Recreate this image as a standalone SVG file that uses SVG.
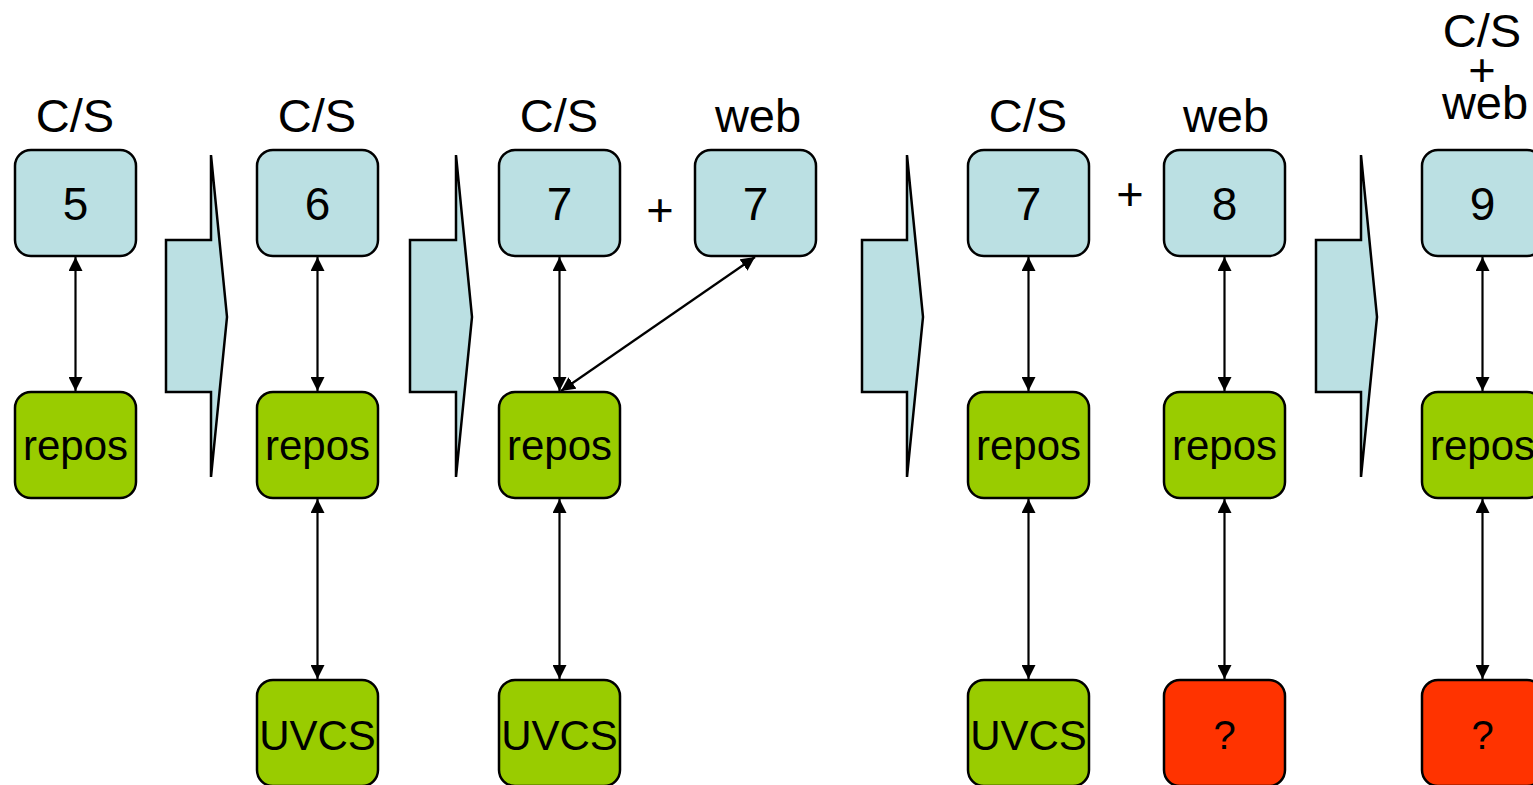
<svg xmlns="http://www.w3.org/2000/svg" width="1533" height="785" viewBox="0 0 1533 785">
<style>
.box{stroke:#000;stroke-width:2.5}
.blue{fill:#BBE0E3}
.green{fill:#99CC00}
.red{fill:#FF3300}
.chev{fill:#BBE0E3;stroke:#000;stroke-width:2.5;stroke-linejoin:miter}
text{font-family:"Liberation Sans",Arial,sans-serif;fill:#000;text-anchor:middle}
.lbl{font-size:47px}
.num{font-size:46px}
.t{font-size:42px}
.q{font-size:40px}
.con line{stroke:#000;stroke-width:2.2;marker-start:url(#ah);marker-end:url(#ah)}
</style>
<defs>
<marker id="ah" viewBox="0 0 14 14" refX="14" refY="7" markerWidth="14" markerHeight="14" markerUnits="userSpaceOnUse" orient="auto-start-reverse">
<path d="M0,0 L14,7 L0,14 z" fill="#000"/>
</marker>
</defs>
<rect width="1533" height="785" fill="#fff"/>

<g id="labels">
<text class="lbl" x="75" y="132">C/S</text>
<text class="lbl" x="317" y="132">C/S</text>
<text class="lbl" x="559" y="132">C/S</text>
<text class="lbl" x="758" y="132">web</text>
<text class="lbl" x="1028" y="132">C/S</text>
<text class="lbl" x="1226" y="132">web</text>
<text class="lbl" x="1482" y="47">C/S</text>
<text class="lbl" x="1482" y="86">+</text>
<text class="lbl" x="1485" y="119">web</text>
<text class="lbl" x="660" y="226">+</text>
<text class="lbl" x="1130" y="210">+</text>
</g>

<g id="chevrons">
<polygon class="chev" points="166,240 211,240 211,155 227,317 211,477 211,392 166,392"/>
<polygon class="chev" points="410,240 456,240 456,155 472,317 456,477 456,392 410,392"/>
<polygon class="chev" points="862,240 907,240 907,155 923,317 907,477 907,392 862,392"/>
<polygon class="chev" points="1316,240 1361,240 1361,155 1377,317 1361,477 1361,392 1316,392"/>
</g>

<g id="n5"><rect class="box blue" x="15" y="150" width="121" height="106" rx="16"/><text class="num" x="75.5" y="220">5</text></g>
<g id="r1"><rect class="box green" x="15" y="392" width="121" height="106" rx="16"/><text class="t" x="75.5" y="460">repos</text></g>

<g id="n6"><rect class="box blue" x="257" y="150" width="121" height="106" rx="16"/><text class="num" x="317.5" y="220">6</text></g>
<g id="r2"><rect class="box green" x="257" y="392" width="121" height="106" rx="16"/><text class="t" x="317.5" y="460">repos</text></g>
<g id="u2"><rect class="box green" x="257" y="680" width="121" height="106" rx="16"/><text class="t" x="317.5" y="750">UVCS</text></g>

<g id="n7a"><rect class="box blue" x="499" y="150" width="121" height="106" rx="16"/><text class="num" x="559.5" y="220">7</text></g>
<g id="n7b"><rect class="box blue" x="695" y="150" width="121" height="106" rx="16"/><text class="num" x="755.5" y="220">7</text></g>
<g id="r3"><rect class="box green" x="499" y="392" width="121" height="106" rx="16"/><text class="t" x="559.5" y="460">repos</text></g>
<g id="u3"><rect class="box green" x="499" y="680" width="121" height="106" rx="16"/><text class="t" x="559.5" y="750">UVCS</text></g>

<g id="n7c"><rect class="box blue" x="968" y="150" width="121" height="106" rx="16"/><text class="num" x="1028.5" y="220">7</text></g>
<g id="n8"><rect class="box blue" x="1164" y="150" width="121" height="106" rx="16"/><text class="num" x="1224.5" y="220">8</text></g>
<g id="r4"><rect class="box green" x="968" y="392" width="121" height="106" rx="16"/><text class="t" x="1028.5" y="460">repos</text></g>
<g id="r5"><rect class="box green" x="1164" y="392" width="121" height="106" rx="16"/><text class="t" x="1224.5" y="460">repos</text></g>
<g id="u4"><rect class="box green" x="968" y="680" width="121" height="106" rx="16"/><text class="t" x="1028.5" y="750">UVCS</text></g>
<g id="q5"><rect class="box red" x="1164" y="680" width="121" height="106" rx="16"/><text class="q" x="1224.5" y="749">?</text></g>

<g id="n9"><rect class="box blue" x="1422" y="150" width="121" height="106" rx="16"/><text class="num" x="1482.5" y="220">9</text></g>
<g id="r6"><rect class="box green" x="1422" y="392" width="121" height="106" rx="16"/><text class="t" x="1482.5" y="460">repos</text></g>
<g id="q6"><rect class="box red" x="1422" y="680" width="121" height="106" rx="16"/><text class="q" x="1482.5" y="749">?</text></g>

<g id="connectors" class="con">
<line x1="75.5" y1="257" x2="75.5" y2="391"/>
<line x1="317.5" y1="257" x2="317.5" y2="391"/>
<line x1="317.5" y1="499" x2="317.5" y2="679"/>
<line x1="559.5" y1="257" x2="559.5" y2="391"/>
<line x1="559.5" y1="499" x2="559.5" y2="679"/>
<line x1="755" y1="257" x2="561" y2="391"/>
<line x1="1028.5" y1="257" x2="1028.5" y2="391"/>
<line x1="1028.5" y1="499" x2="1028.5" y2="679"/>
<line x1="1224.5" y1="257" x2="1224.5" y2="391"/>
<line x1="1224.5" y1="499" x2="1224.5" y2="679"/>
<line x1="1482.5" y1="257" x2="1482.5" y2="391"/>
<line x1="1482.5" y1="499" x2="1482.5" y2="679"/>
</g>
</svg>
